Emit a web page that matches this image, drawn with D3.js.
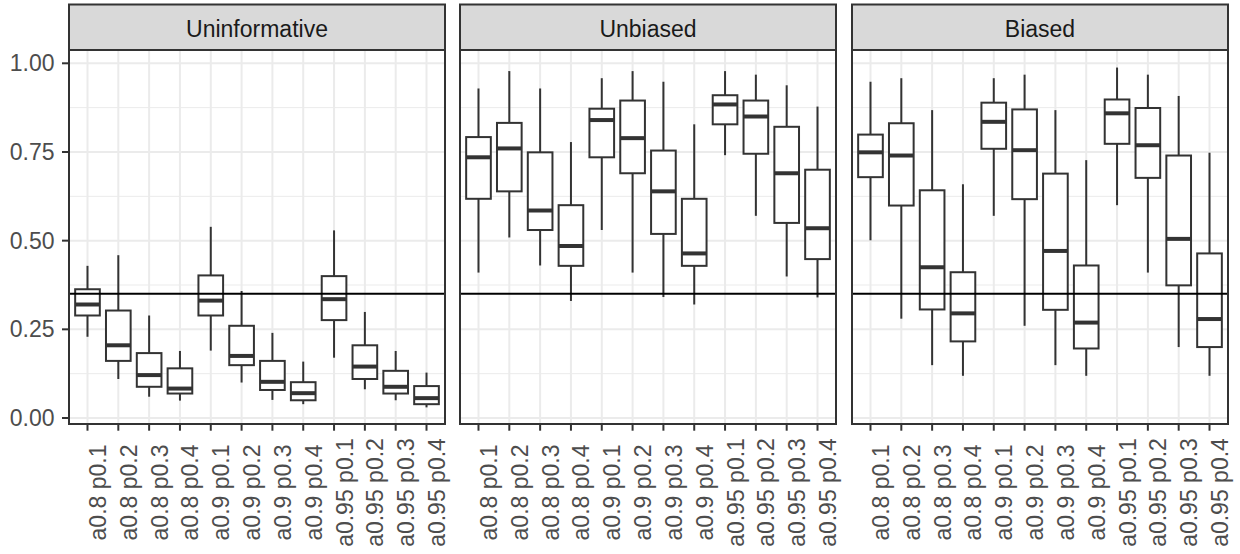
<!DOCTYPE html>
<html>
<head>
<meta charset="utf-8">
<script src="https://cdn.jsdelivr.net/npm/d3@7"></script>
<style>
  html, body { margin: 0; padding: 0; background: #fff; }
  svg { display: block; font-family: "Liberation Sans", Arial, Helvetica, sans-serif; }
</style>
</head>
<body>
<svg id="chart" width="1240" height="554"></svg>
<script>
// ---- data ----
const categories = ["a0.8 p0.1","a0.8 p0.2","a0.8 p0.3","a0.8 p0.4",
                    "a0.9 p0.1","a0.9 p0.2","a0.9 p0.3","a0.9 p0.4",
                    "a0.95 p0.1","a0.95 p0.2","a0.95 p0.3","a0.95 p0.4"];
const panels = ["Uninformative", "Unbiased", "Biased"];
const yTicks = [0, 0.25, 0.5, 0.75, 1];
const yMinor = [0.125, 0.375, 0.625, 0.875];
const yTickLabels = ["0.00", "0.25", "0.50", "0.75", "1.00"];
const refLine = 0.35;
// each row: [lower whisker, Q1, median, Q3, upper whisker]
const uninformative = [
  [0.229, 0.289, 0.320, 0.363, 0.429],
  [0.110, 0.161, 0.205, 0.303, 0.459],
  [0.060, 0.088, 0.121, 0.183, 0.289],
  [0.049, 0.069, 0.083, 0.140, 0.189],
  [0.190, 0.289, 0.331, 0.402, 0.539],
  [0.100, 0.149, 0.175, 0.260, 0.358],
  [0.051, 0.079, 0.102, 0.161, 0.240],
  [0.039, 0.050, 0.070, 0.101, 0.159],
  [0.170, 0.276, 0.335, 0.400, 0.529],
  [0.081, 0.110, 0.145, 0.205, 0.299],
  [0.050, 0.069, 0.088, 0.133, 0.189],
  [0.030, 0.039, 0.056, 0.090, 0.128]
];
const unbiased = [
  [0.410, 0.618, 0.735, 0.792, 0.929],
  [0.509, 0.639, 0.760, 0.832, 0.978],
  [0.430, 0.530, 0.585, 0.749, 0.929],
  [0.330, 0.429, 0.485, 0.600, 0.778],
  [0.530, 0.735, 0.840, 0.872, 0.958],
  [0.410, 0.690, 0.789, 0.895, 0.978],
  [0.341, 0.519, 0.639, 0.754, 0.948],
  [0.320, 0.429, 0.464, 0.618, 0.828],
  [0.741, 0.828, 0.884, 0.910, 0.978],
  [0.570, 0.745, 0.850, 0.895, 0.968],
  [0.399, 0.550, 0.690, 0.821, 0.938],
  [0.340, 0.448, 0.535, 0.700, 0.878]
];
const biased = [
  [0.501, 0.679, 0.749, 0.799, 0.948],
  [0.280, 0.599, 0.740, 0.831, 0.958],
  [0.149, 0.306, 0.425, 0.642, 0.868],
  [0.119, 0.216, 0.295, 0.411, 0.659],
  [0.570, 0.759, 0.835, 0.889, 0.958],
  [0.260, 0.617, 0.755, 0.870, 0.968],
  [0.149, 0.305, 0.471, 0.689, 0.868],
  [0.119, 0.196, 0.269, 0.430, 0.727],
  [0.600, 0.773, 0.859, 0.898, 0.988],
  [0.410, 0.677, 0.769, 0.874, 0.968],
  [0.200, 0.374, 0.505, 0.740, 0.908],
  [0.119, 0.200, 0.279, 0.464, 0.748]
];
const panelData = [uninformative, unbiased, biased];

// ---- layout ----
const svg = d3.select("#chart");
const panelX0 = [69, 460, 852];
const panelW = 376;
const stripTop = 4.5, stripBottom = 50;
const plotTop = 50, plotBottom = 424;
const dark = "#333333";
const fontSize = 23;

const y = d3.scaleLinear().domain([-0.0169, 1.0375]).range([plotBottom, plotTop]);

panels.forEach((name, pi) => {
  const x0 = panelX0[pi];
  const x = d3.scalePoint().domain(categories).range([x0, x0 + panelW]).padding(0.6);
  const step = x.step();
  const bw = step * 0.8;
  const g = svg.append("g");

  // background
  g.append("rect").attr("x", x0).attr("y", plotTop).attr("width", panelW)
    .attr("height", plotBottom - plotTop).attr("fill", "#fff");

  // minor grid
  g.selectAll(".minor").data(yMinor).enter().append("line")
    .attr("x1", x0).attr("x2", x0 + panelW)
    .attr("y1", d => y(d)).attr("y2", d => y(d))
    .attr("stroke", "#EBEBEB").attr("stroke-width", 1);
  // major grid
  g.selectAll(".majorY").data(yTicks).enter().append("line")
    .attr("x1", x0).attr("x2", x0 + panelW)
    .attr("y1", d => y(d)).attr("y2", d => y(d))
    .attr("stroke", "#EBEBEB").attr("stroke-width", 2);
  g.selectAll(".majorX").data(categories).enter().append("line")
    .attr("x1", d => x(d)).attr("x2", d => x(d))
    .attr("y1", plotTop).attr("y2", plotBottom)
    .attr("stroke", "#EBEBEB").attr("stroke-width", 2);

  // boxplots
  const rows = panelData[pi].map((s, i) => ({ cat: categories[i], lo: s[0], q1: s[1], med: s[2], q3: s[3], hi: s[4] }));
  const bg = g.selectAll(".box").data(rows).enter().append("g");
  bg.append("line")
    .attr("x1", d => x(d.cat)).attr("x2", d => x(d.cat))
    .attr("y1", d => y(d.hi)).attr("y2", d => y(d.q3))
    .attr("stroke", dark).attr("stroke-width", 2);
  bg.append("line")
    .attr("x1", d => x(d.cat)).attr("x2", d => x(d.cat))
    .attr("y1", d => y(d.q1)).attr("y2", d => y(d.lo))
    .attr("stroke", dark).attr("stroke-width", 2);
  bg.append("rect")
    .attr("x", d => x(d.cat) - bw / 2).attr("width", bw)
    .attr("y", d => y(d.q3)).attr("height", d => y(d.q1) - y(d.q3))
    .attr("fill", "#fff").attr("stroke", dark).attr("stroke-width", 2);
  bg.append("line")
    .attr("x1", d => x(d.cat) - bw / 2).attr("x2", d => x(d.cat) + bw / 2)
    .attr("y1", d => y(d.med)).attr("y2", d => y(d.med))
    .attr("stroke", dark).attr("stroke-width", 4);

  // reference line
  g.append("line").attr("x1", x0).attr("x2", x0 + panelW)
    .attr("y1", y(refLine)).attr("y2", y(refLine))
    .attr("stroke", "#000").attr("stroke-width", 2);

  // panel border
  g.append("rect").attr("x", x0).attr("y", plotTop).attr("width", panelW)
    .attr("height", plotBottom - plotTop).attr("fill", "none")
    .attr("stroke", dark).attr("stroke-width", 2);

  // strip
  g.append("rect").attr("x", x0).attr("y", stripTop).attr("width", panelW)
    .attr("height", stripBottom - stripTop).attr("fill", "#D9D9D9")
    .attr("stroke", dark).attr("stroke-width", 2);
  g.append("text").attr("x", x0 + panelW / 2).attr("y", 36.5)
    .attr("text-anchor", "middle").attr("font-size", fontSize)
    .attr("fill", "#1A1A1A").text(name);

  // x axis ticks & labels
  g.selectAll(".xt").data(categories).enter().append("line")
    .attr("x1", d => x(d)).attr("x2", d => x(d))
    .attr("y1", plotBottom + 1).attr("y2", plotBottom + 6.7)
    .attr("stroke", dark).attr("stroke-width", 2);
  g.selectAll(".xl").data(categories).enter().append("text")
    .attr("transform", d => `translate(${x(d) + 18.5},492.5) rotate(-90)`)
    .attr("text-anchor", "middle").attr("font-size", fontSize)
    .attr("fill", "#4D4D4D").text(d => d);

  // y axis on first panel
  if (pi === 0) {
    g.selectAll(".yt").data(yTicks).enter().append("line")
      .attr("x1", x0 - 7).attr("x2", x0 - 1)
      .attr("y1", d => y(d)).attr("y2", d => y(d))
      .attr("stroke", dark).attr("stroke-width", 2);
    g.selectAll(".yl").data(yTicks).enter().append("text")
      .attr("x", 54.5).attr("y", d => y(d)).attr("dy", "0.35em")
      .attr("text-anchor", "end").attr("font-size", fontSize)
      .attr("fill", "#4D4D4D").text((d, i) => yTickLabels[i]);
  }
});
</script>
</body>
</html>
